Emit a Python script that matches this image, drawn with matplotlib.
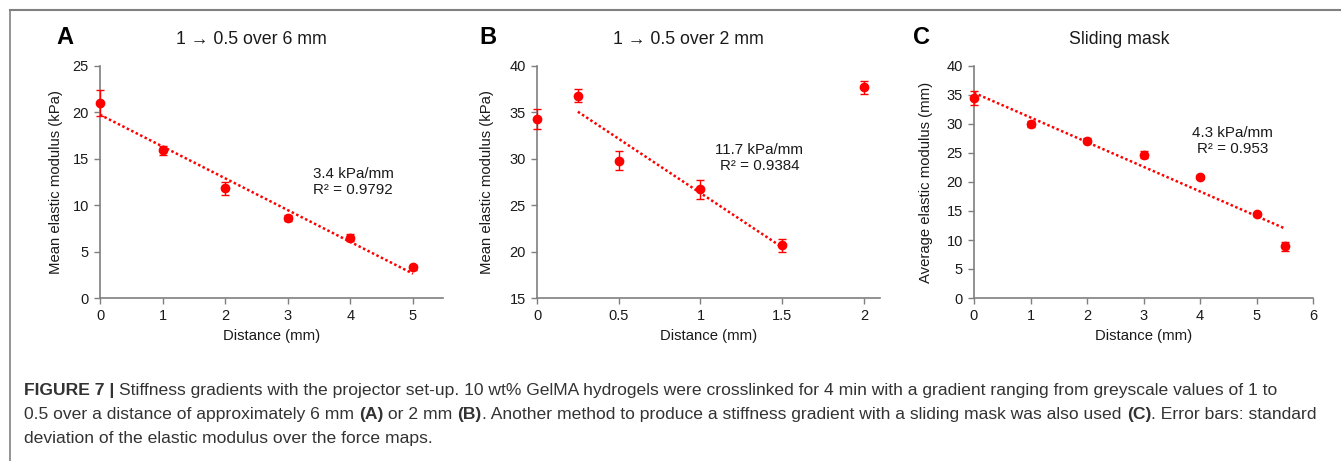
import matplotlib
matplotlib.use("Agg")
import matplotlib.pyplot as plt
import numpy as np

plt.rcParams['font.family'] = ['Liberation Sans', 'DejaVu Sans']

# Panel A : 1 -> 0.5 over 6 mm
a_x = [0, 1, 2, 3, 4, 5]
a_y = [21.0, 15.9, 11.8, 8.6, 6.5, 3.3]
a_err = [1.4, 0.5, 0.7, 0.3, 0.4, 0.25]

# Panel B : 1 -> 0.5 over 2 mm
b_x = [0, 0.25, 0.5, 1, 1.5, 2]
b_y = [34.3, 36.8, 29.8, 26.7, 20.7, 37.7]
b_err = [1.1, 0.7, 1.0, 1.0, 0.7, 0.7]
b_fit = [1, 2, 3, 4]  # indices used for the trend line

# Panel C : sliding mask
c_x = [0, 1, 2, 3, 4, 5, 5.5]
c_y = [34.5, 30.0, 27.1, 24.7, 20.9, 14.4, 8.9]
c_err = [1.2, 0.6, 0.4, 0.6, 0.3, 0.3, 0.8]

red = '#ff0000'
spine_col = '#7f7f7f'
txt_col = '#1a1a1a'

fig = plt.figure(figsize=(13.41, 4.61), dpi=100)

# frame of the figure (top and left rules)
fig.add_artist(plt.Line2D([9.5 / 1341, 1], [1 - 10.5 / 461] * 2, color='#808080', lw=1.5))
fig.add_artist(plt.Line2D([9.5 / 1341] * 2, [0, 1 - 10.5 / 461], color='#808080', lw=1.2))


def panel(rect, x, y, err, fit_idx, xlim, ylim, xticks, xtl, yticks, ylabel, title, letter,
          title_x, letter_x, label_x, note, note_xy, note_ha):
    ax = fig.add_axes(rect)
    ax.errorbar(x, y, yerr=err, fmt='o', color=red, ms=6, elinewidth=1, capsize=3,
                capthick=1, clip_on=False, zorder=3)
    xf = np.array([x[i] for i in fit_idx])
    yf = np.array([y[i] for i in fit_idx])
    k, b = np.polyfit(xf, yf, 1)
    xx = np.array([xf.min(), xf.max()])
    ax.plot(xx, k * xx + b, color=red, lw=1.8, ls=(0, (1, 1)), zorder=2)
    ax.set_xlim(*xlim)
    ax.set_ylim(*ylim)
    ax.set_xticks(xticks)
    ax.set_xticklabels(xtl)
    ax.set_yticks(yticks)
    for s in ['top', 'right']:
        ax.spines[s].set_visible(False)
    for s in ['left', 'bottom']:
        ax.spines[s].set_color(spine_col)
        ax.spines[s].set_linewidth(1.2)
    ax.tick_params(direction='out', length=4, width=1, color=spine_col,
                   labelsize=10.5, labelcolor=txt_col, pad=4)
    ax.set_xlabel('Distance (mm)', fontsize=10.7, color=txt_col, labelpad=4)
    ax.set_ylabel(ylabel, fontsize=10.7, color=txt_col)
    ax.yaxis.set_label_coords((label_x - rect[0] * 1341) / (rect[2] * 1341), 0.5)
    fig.text(title_x / 1341, 1 - 40 / 461, title, fontsize=12.8, color=txt_col,
             ha='center', va='center')
    fig.text(letter_x / 1341, 1 - 38 / 461, letter, fontsize=17, fontweight='bold',
             color='black', ha='center', va='center')
    ax.text(note_xy[0], note_xy[1], note, fontsize=10.9, color=txt_col, ha=note_ha,
            va='center', linespacing=1.15, multialignment=note_ha)
    return ax


panel([100 / 1341, 1 - 298 / 461, 343 / 1341, 232 / 461], a_x, a_y, a_err, range(6),
      (0, 5.48), (0, 25), [0, 1, 2, 3, 4, 5], ['0', '1', '2', '3', '4', '5'],
      [0, 5, 10, 15, 20, 25], 'Mean elastic modulus (kPa)',
      '1 \u2192 0.5 over 6 mm', 'A', 251, 65, 63,
      '3.4 kPa/mm\nR\u00b2 = 0.9792', (3.4, 12.5), 'left')

panel([537 / 1341, 1 - 298 / 461, 343 / 1341, 232 / 461], b_x, b_y, b_err, b_fit,
      (0, 2.098), (15, 40), [0, 0.5, 1, 1.5, 2], ['0', '0.5', '1', '1.5', '2'],
      [15, 20, 25, 30, 35, 40], 'Mean elastic modulus (kPa)',
      '1 \u2192 0.5 over 2 mm', 'B', 688, 488, 494,
      '11.7 kPa/mm\nR\u00b2 = 0.9384', (1.36, 30.1), 'center')

panel([974 / 1341, 1 - 298 / 461, 339 / 1341, 232 / 461], c_x, c_y, c_err, range(7),
      (0, 6), (0, 40), [0, 1, 2, 3, 4, 5, 6], ['0', '1', '2', '3', '4', '5', '6'],
      [0, 5, 10, 15, 20, 25, 30, 35, 40], 'Average elastic modulus (mm)',
      'Sliding mask', 'C', 1119, 922, 933,
      '4.3 kPa/mm\nR\u00b2 = 0.953', (4.58, 27.1), 'center')

# caption, with bold pieces placed one after the other
caption = [
    [('FIGURE 7 | ', 'bold'),
     ('Stiffness gradients with the projector set-up. 10 wt% GelMA hydrogels were crosslinked for 4 min '
      'with a gradient ranging from greyscale values of 1 to', 'normal')],
    [('0.5 over a distance of approximately 6 mm ', 'normal'), ('(A)', 'bold'), (' or 2 mm ', 'normal'),
     ('(B)', 'bold'),
     ('. Another method to produce a stiffness gradient with a sliding mask was also used ', 'normal'),
     ('(C)', 'bold'), ('. Error bars: standard', 'normal')],
    [('deviation of the elastic modulus over the force maps.', 'normal')],
]
cap_y = [395, 419, 443]
renderer = fig.canvas.get_renderer()


def piece_width(s, w, size):
    probe = fig.text(0, 0, s.replace(' ', '\u00a0'), fontsize=size, fontweight=w)
    wd = probe.get_window_extent(renderer).width
    probe.remove()
    return wd


# size the caption so the first line runs to the same right edge as the reference
base = sum(piece_width(s, w, 10) for s, w in caption[0])
cap_size = 10 * (1282 - 24) / base

for line, yy in zip(caption, cap_y):
    xpx = 24
    for s, w in line:
        fig.text(xpx / 1341, 1 - yy / 461, s, fontsize=cap_size, fontweight=w, color='#333333',
                 ha='left', va='baseline')
        xpx += piece_width(s, w, cap_size)

fig.savefig('out.png', dpi=100)
